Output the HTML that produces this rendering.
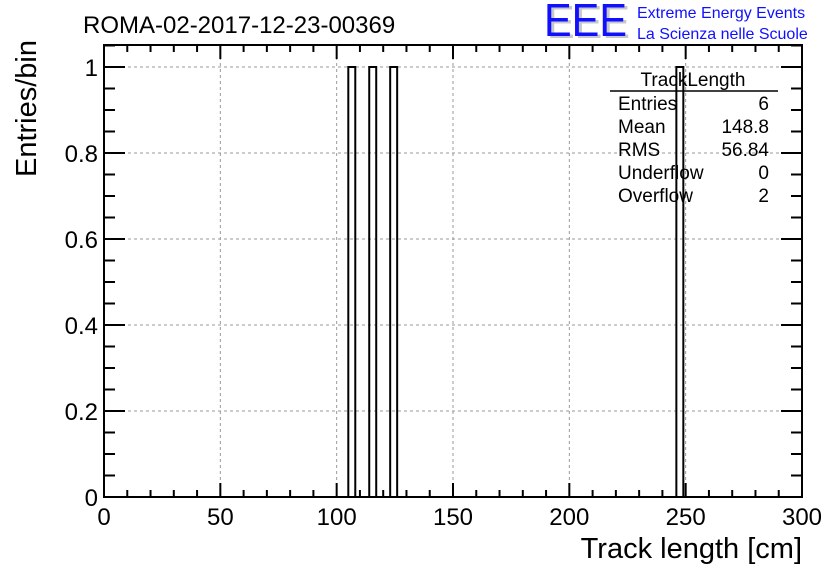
<!DOCTYPE html>
<html><head><meta charset="utf-8"><style>
body{margin:0;background:#fff;}
svg text{font-family:"Liberation Sans",sans-serif;}
</style></head><body>
<svg id="c" width="836" height="572" viewBox="0 0 836 572" xmlns="http://www.w3.org/2000/svg">
<rect width="836" height="572" fill="#fff"/>
<text x="83" y="33" font-size="24">ROMA-02-2017-12-23-00369</text>
<g>
<text x="547" y="38" font-size="46" fill="#c8c8c8" textLength="83" lengthAdjust="spacingAndGlyphs">EEE</text>
<text x="544" y="36" font-size="46" fill="#1010ff" textLength="83" lengthAdjust="spacingAndGlyphs">EEE</text>
<text x="637" y="18" font-size="16" fill="#1010ff">Extreme Energy Events</text>
<text x="637" y="39" font-size="16" fill="#1010ff">La Scienza nelle Scuole</text>
</g>
<g id="grid"></g>
<g id="bars"></g>
<g id="axes"></g>
<g font-size="19">
<text x="693" y="86" text-anchor="middle">TrackLength</text>
<line x1="610" y1="91" x2="778" y2="91" stroke="#000" stroke-width="1.5"/>
<text x="618" y="110">Entries</text><text x="769" y="110" text-anchor="end">6</text>
<text x="618" y="133">Mean</text><text x="769" y="133" text-anchor="end">148.8</text>
<text x="618" y="156">RMS</text><text x="769" y="156" text-anchor="end">56.84</text>
<text x="618" y="179">Underflow</text><text x="769" y="179" text-anchor="end">0</text>
<text x="618" y="202">Overflow</text><text x="769" y="202" text-anchor="end">2</text>
</g>
<text x="802" y="558" font-size="29" text-anchor="end">Track length [cm]</text>
<text transform="translate(36,40) rotate(-90)" font-size="29" text-anchor="end">Entries/bin</text>
</svg>
<script>
const binLows=[105,114,123,246];
const binCounts=[1,1,1,1];
const binWidth=3;
const xTicks=[0,50,100,150,200,250,300];
const yTicks=[0,0.2,0.4,0.6,0.8,1];
const yTickLabels=["0","0.2","0.4","0.6","0.8","1"];
const L=104,R=802,B=497,T=45;
const X=v=>L+(v/300)*(R-L);
const Y=v=>B-(v/1)*(B-67);
const NS="http://www.w3.org/2000/svg";
function mk(tag,attrs,parent){const e=document.createElementNS(NS,tag);for(const k in attrs)e.setAttribute(k,attrs[k]);parent.appendChild(e);return e;}
const grid=document.getElementById('grid'),bars=document.getElementById('bars'),axes=document.getElementById('axes');
xTicks.forEach(v=>{if(v>0&&v<300){const g=mk('line',{x1:X(v),x2:X(v),y1:T,y2:B,stroke:'#999','stroke-dasharray':'3,3','stroke-width':1},grid);

}});
yTicks.forEach(v=>{if(v>0){const g=mk('line',{x1:L,x2:R,y1:Y(v),y2:Y(v),stroke:'#999','stroke-dasharray':'3,3','stroke-width':1},grid);

}});
binLows.forEach((lo,i)=>{const x0=X(lo),x1=X(lo+binWidth),y=Y(binCounts[i]);
const p=mk('path',{d:`M${x0},${B} V${y} H${x1} V${B}`,fill:'none',stroke:'#000','stroke-width':2},bars);

});
const fr=mk('rect',{x:L,y:T,width:R-L,height:B-T,fill:'none',stroke:'#000','stroke-width':2},axes);


for(let v=0;v<=300;v+=10){const maj=v%50===0;const len=maj?14:7;
mk('line',{x1:X(v),x2:X(v),y1:B,y2:B-len,stroke:'#000','stroke-width':2},axes);
mk('line',{x1:X(v),x2:X(v),y1:T,y2:T+len,stroke:'#000','stroke-width':2},axes);}
for(let k=0;k<=21;k++){const v=k*0.05;const y=Y(v);if(y<T)break;const maj=k%4===0;const len=maj?21:11;
mk('line',{x1:L,x2:L+len,y1:y,y2:y,stroke:'#000','stroke-width':2},axes);
mk('line',{x1:R,x2:R-len,y1:y,y2:y,stroke:'#000','stroke-width':2},axes);}
xTicks.forEach(v=>{const t=mk('text',{x:X(v),y:525,'font-size':24,'text-anchor':'middle'},axes);t.textContent=String(v);

});
yTicks.forEach((v,i)=>{const t=mk('text',{x:98,y:Y(v)+9,'font-size':24,'text-anchor':'end'},axes);t.textContent=yTickLabels[i];

});
</script>
</body></html>
